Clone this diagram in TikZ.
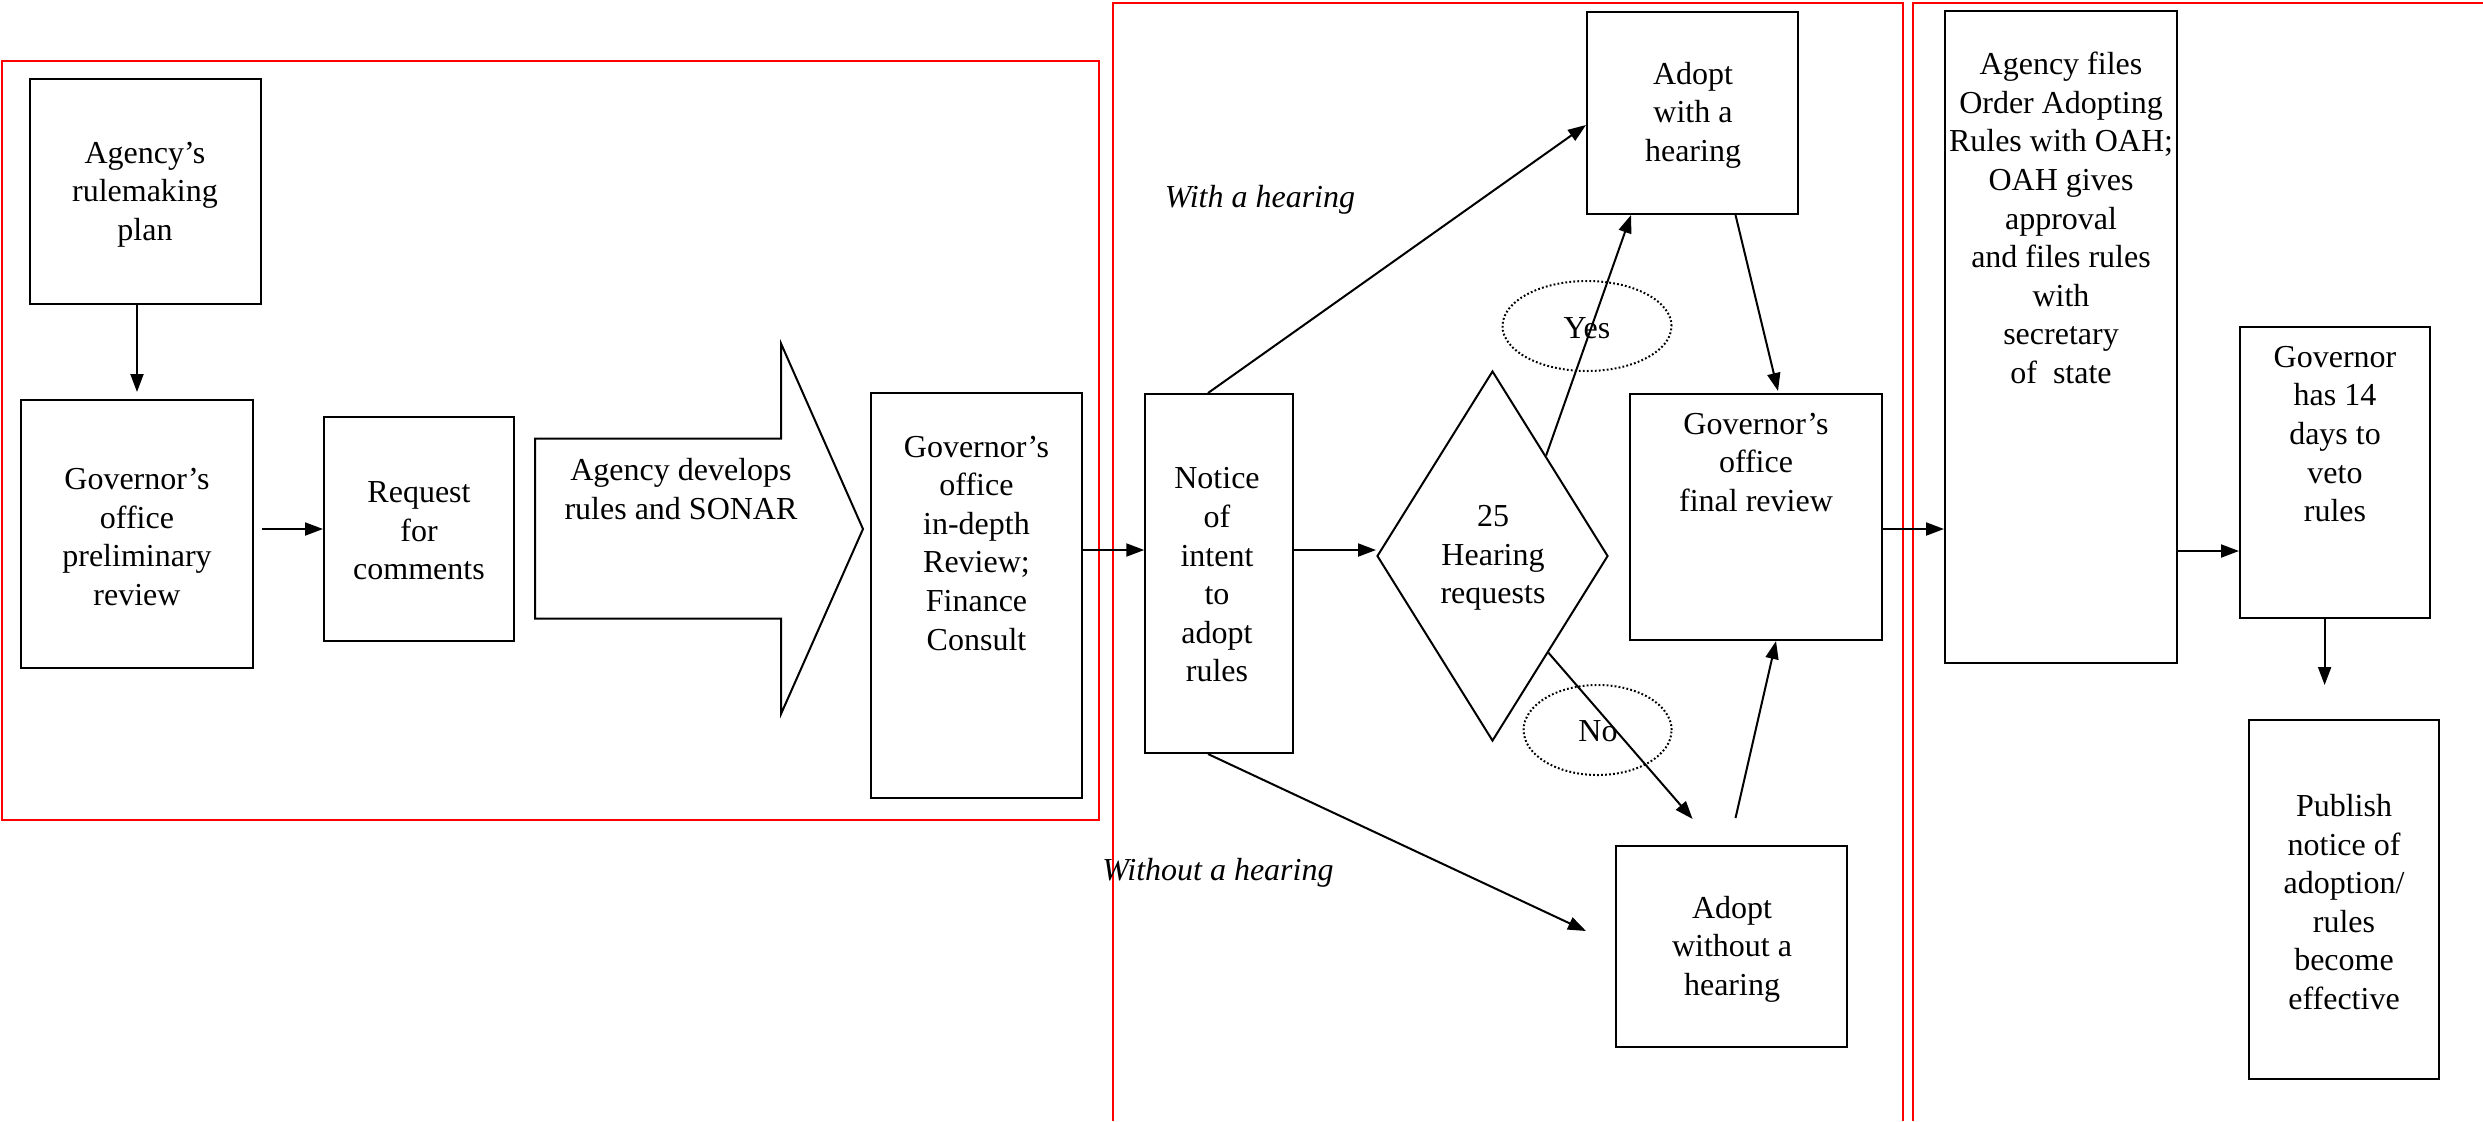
\documentclass[tikz,border=0pt]{standalone}
\usepackage{fontspec}
\setmainfont{Liberation Serif}
\newfontfamily\tmsfont{Liberation Serif}
\usetikzlibrary{arrows.meta,shapes.geometric,calc}
\begin{document}
\begin{tikzpicture}[x=0.5pt,y=-0.5pt,
  box/.style={draw, line width=1pt, inner sep=0pt},
  txt/.style={font=\tmsfont\fontsize{16}{19.3}\selectfont, align=center, inner sep=0pt},
  arr/.style={line width=1pt, -{Triangle[length=9pt,width=6.5pt]}},
  frame/.style={draw=red, line width=1pt},
  oval/.style={ellipse, draw, line width=1pt, dash pattern=on 0.9pt off 1.1pt, inner sep=0pt}
]
\useasboundingbox (0,0) rectangle (2483,1121);

% red frames
\draw[frame] (1.5,61) rectangle (1099,820);
\draw[frame] (1113,1121) -- (1113,3) -- (1903,3) -- (1903,1121);
\draw[frame] (1913,1121) -- (1913,3) -- (2483,3);

% boxes
\node[box, minimum width=115.5pt, minimum height=112.5pt] (plan) at (145.5,191.5) {};
\node[box, minimum width=116pt, minimum height=134pt] (prelim) at (137,534) {};
\node[box, minimum width=95pt, minimum height=112pt] (req) at (419,529) {};
\node[box, minimum width=105.5pt, minimum height=202.5pt] (indepth) at (976.5,595.5) {};
\node[box, minimum width=73.75pt, minimum height=179.5pt] (notice) at (1219,573.5) {};
\node[box, diamond, minimum width=115.5pt, minimum height=185pt] (dia) at (1492.5,556) {};
\node[box, minimum width=105.5pt, minimum height=101pt] (adoptw) at (1692.5,113) {};
\node[box, minimum width=126pt, minimum height=123pt] (final) at (1756,517) {};
\node[box, minimum width=115.5pt, minimum height=100.5pt] (adoptwo) at (1731.5,946.5) {};
\node[box, minimum width=116pt, minimum height=326pt] (files) at (2061,337) {};
\node[box, minimum width=95pt, minimum height=145.5pt] (gov) at (2335,472.5) {};
\node[box, minimum width=95pt, minimum height=179.5pt] (publish) at (2344,899.5) {};

% big arrow
\draw[line width=1pt] (535,438.6) -- (781,438.6) -- (781,343.5) -- (863,529)
  -- (781,714) -- (781,618.6) -- (535,618.6) -- cycle;

% texts
\node[txt] (tplan) at (145,194.5) {Agency’s\\rulemaking\\plan};
\node[txt] (tprelim) at (137,537) {Governor’s\\office\\preliminary\\review};
\node[txt] (treq) at (419,531) {Request\\for\\comments};
\node[txt] (tbig) at (681,489) {Agency develops\\rules and SONAR};
\node[txt] (tindepth) at (976.5,543) {Governor’s\\office\\in-depth\\Review;\\Finance\\Consult};
\node[txt] (tnotice) at (1217,575) {Notice\\of\\intent\\to\\adopt\\rules};
\node[txt] (tdia) at (1493,558) {25\\Hearing\\requests};
\node[txt] (tadoptw) at (1693,115) {Adopt\\with a\\hearing};
\node[txt] (tfinal) at (1756,462.5) {Governor’s\\office\\final review};
\node[txt] (tadoptwo) at (1732,949) {Adopt\\without a\\hearing};
\node[txt] (tfiles) at (2061,218) {Agency files\\Order Adopting\\Rules with OAH;\\OAH gives\\approval\\and files rules\\with\\secretary\\of~~state};
\node[txt] (tgov) at (2335,434) {Governor\\has 14\\days to\\veto\\rules};
\node[txt] (tpub) at (2344,902) {Publish\\notice of\\adoption/\\rules\\become\\effective};
\node[txt, font=\tmsfont\fontsize{16}{19.3}\selectfont\itshape] (lwith) at (1260,200) {With a hearing};
\node[txt, font=\tmsfont\fontsize{16}{19.3}\selectfont\itshape] (lwithout) at (1218,873) {Without a hearing};

% yes / no ovals
\node[oval, minimum width=84.5pt, minimum height=45pt] (yes) at (1587,326) {};
\node[txt] (tyes) at (1587,328) {Yes};
\node[oval, minimum width=74pt, minimum height=45pt] (no) at (1597.6,730) {};
\node[txt] (tno) at (1598,731) {No};

% helper coordinates
\coordinate (r1) at (0,550);
\coordinate (r2) at (0,529);
\coordinate (r3) at (0,551);
\coordinate (noend) at (1692.6,819);
\coordinate (govend) at (2324.6,685);

% connectors
\draw[arr] (plan.south -| prelim.north) -- ($(prelim.north)+(0,-7)$);
\draw[arr] ($(prelim.east |- req.west)+(8,0)$) -- (req.west);
\draw[arr] (indepth.east |- r1) -- (notice.west |- r1);
\draw[arr] (notice.east |- r1) -- (dia.west |- r1);
\draw[arr] ($(notice.north)+(-11,0)$) -- ($(adoptw.west)+(0,12)$);
\draw[arr] ($(notice.south)+(-11,0)$) -- ($(adoptwo.west)+(-29,-15.5)$);
\draw[arr] ($(dia.north)!0.46!(dia.east)$) -- ($(adoptw.south)+(-61.5,0)$);
\draw[arr] ($(dia.south)!0.48!(dia.east)$) -- (noend);
\draw[arr] ($(adoptw.south)+(43,0)$) -- ($(final.north)+(22,-2)$);
\draw[arr] ($(adoptwo.north)+(4,-27)$) -- ($(final.south)+(20,0)$);
\draw[arr] (final.east |- r2) -- (files.west |- r2);
\draw[arr] (files.east |- r3) -- (gov.west |- r3);
\draw[arr] ($(gov.south)+(-10.4,0)$) -- (govend);
\end{tikzpicture}
\end{document}
